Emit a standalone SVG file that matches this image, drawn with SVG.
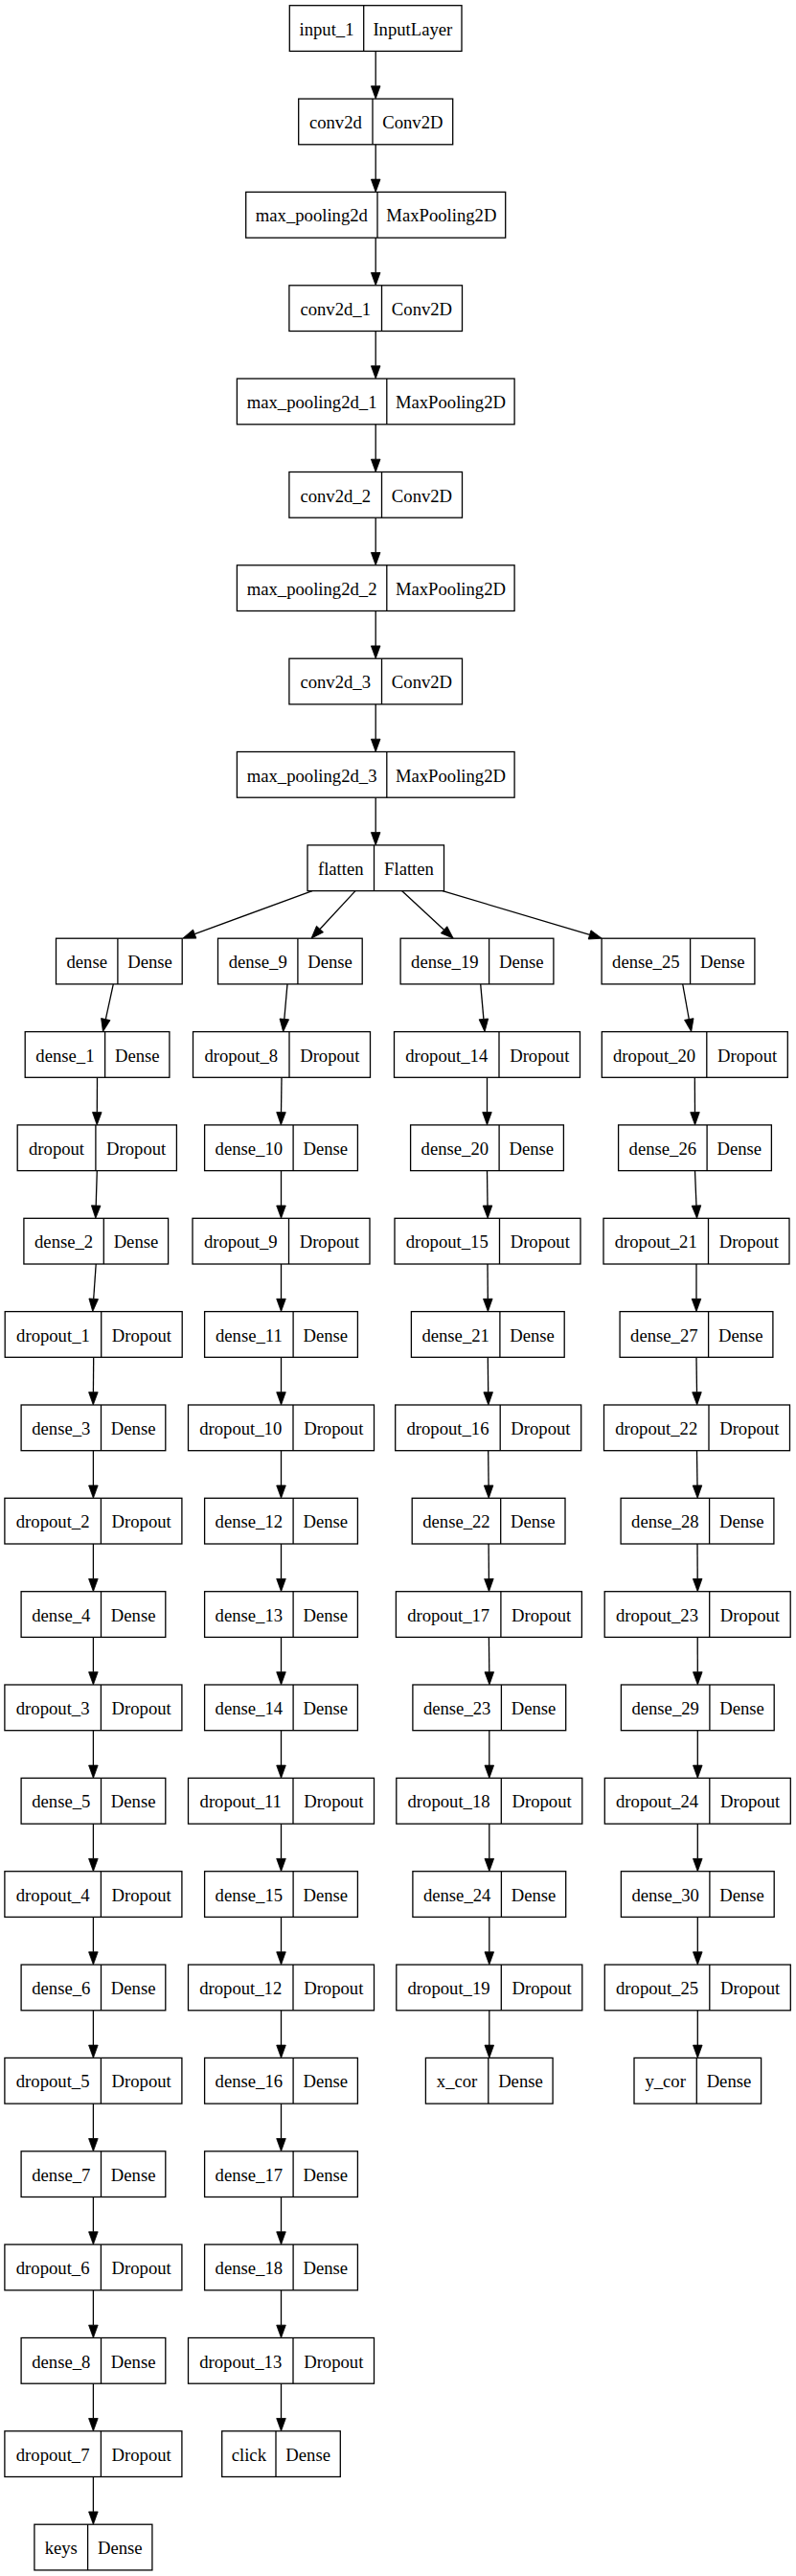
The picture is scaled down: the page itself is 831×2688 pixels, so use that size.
<svg xmlns="http://www.w3.org/2000/svg" width="831" height="2688" viewBox="0 0 831 2688">
<style>
.node rect{fill:#fff;stroke:#000;stroke-width:1.3}
.node line{stroke:#000;stroke-width:1.3}
.node text{font-family:"Liberation Serif","Times New Roman",serif;font-size:18.67px;text-anchor:middle;fill:#000}
#edges path{fill:none;stroke:#000;stroke-width:1.3;marker-end:url(#ah)}
</style>
<defs>
<marker id="ah" markerUnits="userSpaceOnUse" markerWidth="15" markerHeight="11" refX="0" refY="5" orient="auto" overflow="visible"><path d="M0,0.2 L13.3,5 L0,9.8z" fill="#000" stroke="#000" stroke-width="0.8"/></marker>
</defs>
<rect width="831" height="2688" fill="#fff"/>
<g id="edges">
<path d="M392.2,53.4V89.8"/>
<path d="M392.2,150.8V187.1"/>
<path d="M392.2,248.1V284.5"/>
<path d="M392.2,345.5V381.8"/>
<path d="M392.2,442.8V479.2"/>
<path d="M392.2,540.2V576.5"/>
<path d="M392.2,637.5V673.9"/>
<path d="M392.2,734.9V771.2"/>
<path d="M392.2,832.2V868.6"/>
<path d="M326,929.6L203.2,974.6"/>
<path d="M371,929.6L334,969.5"/>
<path d="M419.5,929.6L463.5,970.2"/>
<path d="M462,929.6L615.6,975.4"/>
<path d="M118.3,1026.9L110.3,1063.6"/>
<path d="M101.5,1124.3L101.3,1160.6"/>
<path d="M101.3,1221.6L100.2,1258"/>
<path d="M100.2,1319L97.7,1355.3"/>
<path d="M97.7,1416.3L97.4,1452.7"/>
<path d="M97.4,1513.7V1550"/>
<path d="M97.4,1611V1647.4"/>
<path d="M97.4,1708.4V1744.7"/>
<path d="M97.4,1805.7V1842.1"/>
<path d="M97.4,1903.1V1939.4"/>
<path d="M97.4,2000.4V2036.8"/>
<path d="M97.4,2097.8V2134.1"/>
<path d="M97.4,2195.1V2231.5"/>
<path d="M97.4,2292.5V2328.8"/>
<path d="M97.4,2389.8V2426.2"/>
<path d="M97.4,2487.2V2523.5"/>
<path d="M97.4,2584.5V2620.9"/>
<path d="M300,1026.9L296.8,1063.4"/>
<path d="M294,1124.3L293.5,1160.6"/>
<path d="M293.5,1221.6V1258"/>
<path d="M293.5,1319V1355.3"/>
<path d="M293.5,1416.3V1452.7"/>
<path d="M293.5,1513.7V1550"/>
<path d="M293.5,1611V1647.4"/>
<path d="M293.5,1708.4V1744.7"/>
<path d="M293.5,1805.7V1842.1"/>
<path d="M293.5,1903.1V1939.4"/>
<path d="M293.5,2000.4V2036.8"/>
<path d="M293.5,2097.8V2134.1"/>
<path d="M293.5,2195.1V2231.5"/>
<path d="M293.5,2292.5V2328.8"/>
<path d="M293.5,2389.8V2426.2"/>
<path d="M293.5,2487.2V2523.5"/>
<path d="M501.7,1026.9L504.9,1063.4"/>
<path d="M508.5,1124.3L508.5,1160.6"/>
<path d="M508.5,1221.6L509,1258"/>
<path d="M509,1319L509.3,1355.3"/>
<path d="M509.3,1416.3L509.7,1452.7"/>
<path d="M509.7,1513.7L510.1,1550"/>
<path d="M510.1,1611L510.4,1647.4"/>
<path d="M510.4,1708.4L510.8,1744.7"/>
<path d="M510.8,1805.7V1842.1"/>
<path d="M510.8,1903.1V1939.4"/>
<path d="M510.8,2000.4V2036.8"/>
<path d="M510.8,2097.8V2134.1"/>
<path d="M712.7,1026.9L719.3,1063.5"/>
<path d="M725.3,1124.3L725.5,1160.6"/>
<path d="M725.5,1221.6L727,1258"/>
<path d="M727,1319L727,1355.3"/>
<path d="M727,1416.3L727.5,1452.7"/>
<path d="M727.5,1513.7L728,1550"/>
<path d="M728,1611L728.2,1647.4"/>
<path d="M728.2,1708.4L728.3,1744.7"/>
<path d="M728.3,1805.7V1842.1"/>
<path d="M728.3,1903.1V1939.4"/>
<path d="M728.3,2000.4V2036.8"/>
<path d="M728.3,2097.8V2134.1"/>
</g>
<g id="input_1" class="node" transform="translate(302.3,5.7)"><rect width="179.7" height="47.7"/><line x1="77.4" x2="77.4" y2="47.7"/><text x="38.7" y="31">input_1</text><text x="128.55" y="31">InputLayer</text></g>
<g id="conv2d" class="node" transform="translate(311.7,103.1)"><rect width="161" height="47.7"/><line x1="77.3" x2="77.3" y2="47.7"/><text x="38.65" y="31">conv2d</text><text x="119.15" y="31">Conv2D</text></g>
<g id="max_pooling2d" class="node" transform="translate(256.7,200.4)"><rect width="271" height="47.7"/><line x1="137.3" x2="137.3" y2="47.7"/><text x="68.65" y="31">max_pooling2d</text><text x="204.15" y="31">MaxPooling2D</text></g>
<g id="conv2d_1" class="node" transform="translate(301.9,297.8)"><rect width="180.6" height="47.7"/><line x1="96.6" x2="96.6" y2="47.7"/><text x="48.3" y="31">conv2d_1</text><text x="138.6" y="31">Conv2D</text></g>
<g id="max_pooling2d_1" class="node" transform="translate(247.4,395.1)"><rect width="289.7" height="47.7"/><line x1="156.4" x2="156.4" y2="47.7"/><text x="78.2" y="31">max_pooling2d_1</text><text x="223.05" y="31">MaxPooling2D</text></g>
<g id="conv2d_2" class="node" transform="translate(301.9,492.5)"><rect width="180.6" height="47.7"/><line x1="96.6" x2="96.6" y2="47.7"/><text x="48.3" y="31">conv2d_2</text><text x="138.6" y="31">Conv2D</text></g>
<g id="max_pooling2d_2" class="node" transform="translate(247.4,589.8)"><rect width="289.7" height="47.7"/><line x1="156.4" x2="156.4" y2="47.7"/><text x="78.2" y="31">max_pooling2d_2</text><text x="223.05" y="31">MaxPooling2D</text></g>
<g id="conv2d_3" class="node" transform="translate(301.9,687.2)"><rect width="180.6" height="47.7"/><line x1="96.6" x2="96.6" y2="47.7"/><text x="48.3" y="31">conv2d_3</text><text x="138.6" y="31">Conv2D</text></g>
<g id="max_pooling2d_3" class="node" transform="translate(247.4,784.5)"><rect width="289.7" height="47.7"/><line x1="156.4" x2="156.4" y2="47.7"/><text x="78.2" y="31">max_pooling2d_3</text><text x="223.05" y="31">MaxPooling2D</text></g>
<g id="flatten" class="node" transform="translate(321,881.9)"><rect width="142.5" height="47.7"/><line x1="69.5" x2="69.5" y2="47.7"/><text x="34.75" y="31">flatten</text><text x="106" y="31">Flatten</text></g>

<g id="dense" class="node" transform="translate(58.5,979.2)"><rect width="131.7" height="47.7"/><line x1="64.4" x2="64.4" y2="47.7"/><text x="32.2" y="31">dense</text><text x="98.05" y="31">Dense</text></g>
<g id="dense_1" class="node" transform="translate(26.2,1076.6)"><rect width="150.7" height="47.7"/><line x1="83.4" x2="83.4" y2="47.7"/><text x="41.7" y="31">dense_1</text><text x="117.05" y="31">Dense</text></g>
<g id="dropout" class="node" transform="translate(18.2,1173.9)"><rect width="166.2" height="47.7"/><line x1="81.7" x2="81.7" y2="47.7"/><text x="40.85" y="31">dropout</text><text x="123.95" y="31">Dropout</text></g>
<g id="dense_2" class="node" transform="translate(24.9,1271.3)"><rect width="150.7" height="47.7"/><line x1="83.4" x2="83.4" y2="47.7"/><text x="41.7" y="31">dense_2</text><text x="117.05" y="31">Dense</text></g>
<g id="dropout_1" class="node" transform="translate(5.2,1368.6)"><rect width="185" height="47.7"/><line x1="100.5" x2="100.5" y2="47.7"/><text x="50.25" y="31">dropout_1</text><text x="142.75" y="31">Dropout</text></g>
<g id="dense_3" class="node" transform="translate(22.1,1466)"><rect width="150.7" height="47.7"/><line x1="83.4" x2="83.4" y2="47.7"/><text x="41.7" y="31">dense_3</text><text x="117.05" y="31">Dense</text></g>
<g id="dropout_2" class="node" transform="translate(4.9,1563.3)"><rect width="185" height="47.7"/><line x1="100.5" x2="100.5" y2="47.7"/><text x="50.25" y="31">dropout_2</text><text x="142.75" y="31">Dropout</text></g>
<g id="dense_4" class="node" transform="translate(22.1,1660.7)"><rect width="150.7" height="47.7"/><line x1="83.4" x2="83.4" y2="47.7"/><text x="41.7" y="31">dense_4</text><text x="117.05" y="31">Dense</text></g>
<g id="dropout_3" class="node" transform="translate(4.9,1758)"><rect width="185" height="47.7"/><line x1="100.5" x2="100.5" y2="47.7"/><text x="50.25" y="31">dropout_3</text><text x="142.75" y="31">Dropout</text></g>
<g id="dense_5" class="node" transform="translate(22.1,1855.4)"><rect width="150.7" height="47.7"/><line x1="83.4" x2="83.4" y2="47.7"/><text x="41.7" y="31">dense_5</text><text x="117.05" y="31">Dense</text></g>
<g id="dropout_4" class="node" transform="translate(4.9,1952.7)"><rect width="185" height="47.7"/><line x1="100.5" x2="100.5" y2="47.7"/><text x="50.25" y="31">dropout_4</text><text x="142.75" y="31">Dropout</text></g>
<g id="dense_6" class="node" transform="translate(22.1,2050.1)"><rect width="150.7" height="47.7"/><line x1="83.4" x2="83.4" y2="47.7"/><text x="41.7" y="31">dense_6</text><text x="117.05" y="31">Dense</text></g>
<g id="dropout_5" class="node" transform="translate(4.9,2147.4)"><rect width="185" height="47.7"/><line x1="100.5" x2="100.5" y2="47.7"/><text x="50.25" y="31">dropout_5</text><text x="142.75" y="31">Dropout</text></g>
<g id="dense_7" class="node" transform="translate(22.1,2244.8)"><rect width="150.7" height="47.7"/><line x1="83.4" x2="83.4" y2="47.7"/><text x="41.7" y="31">dense_7</text><text x="117.05" y="31">Dense</text></g>
<g id="dropout_6" class="node" transform="translate(4.9,2342.1)"><rect width="185" height="47.7"/><line x1="100.5" x2="100.5" y2="47.7"/><text x="50.25" y="31">dropout_6</text><text x="142.75" y="31">Dropout</text></g>
<g id="dense_8" class="node" transform="translate(22.1,2439.5)"><rect width="150.7" height="47.7"/><line x1="83.4" x2="83.4" y2="47.7"/><text x="41.7" y="31">dense_8</text><text x="117.05" y="31">Dense</text></g>
<g id="dropout_7" class="node" transform="translate(4.9,2536.8)"><rect width="185" height="47.7"/><line x1="100.5" x2="100.5" y2="47.7"/><text x="50.25" y="31">dropout_7</text><text x="142.75" y="31">Dropout</text></g>
<g id="keys" class="node" transform="translate(35.9,2634.2)"><rect width="123" height="47.7"/><line x1="55.7" x2="55.7" y2="47.7"/><text x="27.85" y="31">keys</text><text x="89.35" y="31">Dense</text></g>

<g id="dense_9" class="node" transform="translate(227.5,979.2)"><rect width="150.7" height="47.7"/><line x1="83.4" x2="83.4" y2="47.7"/><text x="41.7" y="31">dense_9</text><text x="117.05" y="31">Dense</text></g>
<g id="dropout_8" class="node" transform="translate(201.5,1076.6)"><rect width="185" height="47.7"/><line x1="100.5" x2="100.5" y2="47.7"/><text x="50.25" y="31">dropout_8</text><text x="142.75" y="31">Dropout</text></g>
<g id="dense_10" class="node" transform="translate(213.6,1173.9)"><rect width="159.8" height="47.7"/><line x1="92.5" x2="92.5" y2="47.7"/><text x="46.25" y="31">dense_10</text><text x="126.15" y="31">Dense</text></g>
<g id="dropout_9" class="node" transform="translate(201,1271.3)"><rect width="185" height="47.7"/><line x1="100.5" x2="100.5" y2="47.7"/><text x="50.25" y="31">dropout_9</text><text x="142.75" y="31">Dropout</text></g>
<g id="dense_11" class="node" transform="translate(213.6,1368.6)"><rect width="159.8" height="47.7"/><line x1="92.5" x2="92.5" y2="47.7"/><text x="46.25" y="31">dense_11</text><text x="126.15" y="31">Dense</text></g>
<g id="dropout_10" class="node" transform="translate(196.5,1466)"><rect width="194" height="47.7"/><line x1="109.5" x2="109.5" y2="47.7"/><text x="54.75" y="31">dropout_10</text><text x="151.75" y="31">Dropout</text></g>
<g id="dense_12" class="node" transform="translate(213.6,1563.3)"><rect width="159.8" height="47.7"/><line x1="92.5" x2="92.5" y2="47.7"/><text x="46.25" y="31">dense_12</text><text x="126.15" y="31">Dense</text></g>
<g id="dense_13" class="node" transform="translate(213.6,1660.7)"><rect width="159.8" height="47.7"/><line x1="92.5" x2="92.5" y2="47.7"/><text x="46.25" y="31">dense_13</text><text x="126.15" y="31">Dense</text></g>
<g id="dense_14" class="node" transform="translate(213.6,1758)"><rect width="159.8" height="47.7"/><line x1="92.5" x2="92.5" y2="47.7"/><text x="46.25" y="31">dense_14</text><text x="126.15" y="31">Dense</text></g>
<g id="dropout_11" class="node" transform="translate(196.5,1855.4)"><rect width="194" height="47.7"/><line x1="109.5" x2="109.5" y2="47.7"/><text x="54.75" y="31">dropout_11</text><text x="151.75" y="31">Dropout</text></g>
<g id="dense_15" class="node" transform="translate(213.6,1952.7)"><rect width="159.8" height="47.7"/><line x1="92.5" x2="92.5" y2="47.7"/><text x="46.25" y="31">dense_15</text><text x="126.15" y="31">Dense</text></g>
<g id="dropout_12" class="node" transform="translate(196.5,2050.1)"><rect width="194" height="47.7"/><line x1="109.5" x2="109.5" y2="47.7"/><text x="54.75" y="31">dropout_12</text><text x="151.75" y="31">Dropout</text></g>
<g id="dense_16" class="node" transform="translate(213.6,2147.4)"><rect width="159.8" height="47.7"/><line x1="92.5" x2="92.5" y2="47.7"/><text x="46.25" y="31">dense_16</text><text x="126.15" y="31">Dense</text></g>
<g id="dense_17" class="node" transform="translate(213.6,2244.8)"><rect width="159.8" height="47.7"/><line x1="92.5" x2="92.5" y2="47.7"/><text x="46.25" y="31">dense_17</text><text x="126.15" y="31">Dense</text></g>
<g id="dense_18" class="node" transform="translate(213.6,2342.1)"><rect width="159.8" height="47.7"/><line x1="92.5" x2="92.5" y2="47.7"/><text x="46.25" y="31">dense_18</text><text x="126.15" y="31">Dense</text></g>
<g id="dropout_13" class="node" transform="translate(196.5,2439.5)"><rect width="194" height="47.7"/><line x1="109.5" x2="109.5" y2="47.7"/><text x="54.75" y="31">dropout_13</text><text x="151.75" y="31">Dropout</text></g>
<g id="click" class="node" transform="translate(231.7,2536.8)"><rect width="123.6" height="47.7"/><line x1="56.3" x2="56.3" y2="47.7"/><text x="28.15" y="31">click</text><text x="89.95" y="31">Dense</text></g>

<g id="dense_19" class="node" transform="translate(418.1,979.2)"><rect width="159.8" height="47.7"/><line x1="92.5" x2="92.5" y2="47.7"/><text x="46.25" y="31">dense_19</text><text x="126.15" y="31">Dense</text></g>
<g id="dropout_14" class="node" transform="translate(411.5,1076.6)"><rect width="194" height="47.7"/><line x1="109.5" x2="109.5" y2="47.7"/><text x="54.75" y="31">dropout_14</text><text x="151.75" y="31">Dropout</text></g>
<g id="dense_20" class="node" transform="translate(428.6,1173.9)"><rect width="159.8" height="47.7"/><line x1="92.5" x2="92.5" y2="47.7"/><text x="46.25" y="31">dense_20</text><text x="126.15" y="31">Dense</text></g>
<g id="dropout_15" class="node" transform="translate(412,1271.3)"><rect width="194" height="47.7"/><line x1="109.5" x2="109.5" y2="47.7"/><text x="54.75" y="31">dropout_15</text><text x="151.75" y="31">Dropout</text></g>
<g id="dense_21" class="node" transform="translate(429.4,1368.6)"><rect width="159.8" height="47.7"/><line x1="92.5" x2="92.5" y2="47.7"/><text x="46.25" y="31">dense_21</text><text x="126.15" y="31">Dense</text></g>
<g id="dropout_16" class="node" transform="translate(412.7,1466)"><rect width="194" height="47.7"/><line x1="109.5" x2="109.5" y2="47.7"/><text x="54.75" y="31">dropout_16</text><text x="151.75" y="31">Dropout</text></g>
<g id="dense_22" class="node" transform="translate(430.2,1563.3)"><rect width="159.8" height="47.7"/><line x1="92.5" x2="92.5" y2="47.7"/><text x="46.25" y="31">dense_22</text><text x="126.15" y="31">Dense</text></g>
<g id="dropout_17" class="node" transform="translate(413.4,1660.7)"><rect width="194" height="47.7"/><line x1="109.5" x2="109.5" y2="47.7"/><text x="54.75" y="31">dropout_17</text><text x="151.75" y="31">Dropout</text></g>
<g id="dense_23" class="node" transform="translate(430.9,1758)"><rect width="159.8" height="47.7"/><line x1="92.5" x2="92.5" y2="47.7"/><text x="46.25" y="31">dense_23</text><text x="126.15" y="31">Dense</text></g>
<g id="dropout_18" class="node" transform="translate(413.8,1855.4)"><rect width="194" height="47.7"/><line x1="109.5" x2="109.5" y2="47.7"/><text x="54.75" y="31">dropout_18</text><text x="151.75" y="31">Dropout</text></g>
<g id="dense_24" class="node" transform="translate(430.9,1952.7)"><rect width="159.8" height="47.7"/><line x1="92.5" x2="92.5" y2="47.7"/><text x="46.25" y="31">dense_24</text><text x="126.15" y="31">Dense</text></g>
<g id="dropout_19" class="node" transform="translate(413.8,2050.1)"><rect width="194" height="47.7"/><line x1="109.5" x2="109.5" y2="47.7"/><text x="54.75" y="31">dropout_19</text><text x="151.75" y="31">Dropout</text></g>
<g id="x_cor" class="node" transform="translate(444.4,2147.4)"><rect width="132.7" height="47.7"/><line x1="65.4" x2="65.4" y2="47.7"/><text x="32.7" y="31">x_cor</text><text x="99.05" y="31">Dense</text></g>

<g id="dense_25" class="node" transform="translate(628.1,979.2)"><rect width="159.8" height="47.7"/><line x1="92.5" x2="92.5" y2="47.7"/><text x="46.25" y="31">dense_25</text><text x="126.15" y="31">Dense</text></g>
<g id="dropout_20" class="node" transform="translate(628.3,1076.6)"><rect width="194" height="47.7"/><line x1="109.5" x2="109.5" y2="47.7"/><text x="54.75" y="31">dropout_20</text><text x="151.75" y="31">Dropout</text></g>
<g id="dense_26" class="node" transform="translate(645.6,1173.9)"><rect width="159.8" height="47.7"/><line x1="92.5" x2="92.5" y2="47.7"/><text x="46.25" y="31">dense_26</text><text x="126.15" y="31">Dense</text></g>
<g id="dropout_21" class="node" transform="translate(630,1271.3)"><rect width="194" height="47.7"/><line x1="109.5" x2="109.5" y2="47.7"/><text x="54.75" y="31">dropout_21</text><text x="151.75" y="31">Dropout</text></g>
<g id="dense_27" class="node" transform="translate(647.1,1368.6)"><rect width="159.8" height="47.7"/><line x1="92.5" x2="92.5" y2="47.7"/><text x="46.25" y="31">dense_27</text><text x="126.15" y="31">Dense</text></g>
<g id="dropout_22" class="node" transform="translate(630.5,1466)"><rect width="194" height="47.7"/><line x1="109.5" x2="109.5" y2="47.7"/><text x="54.75" y="31">dropout_22</text><text x="151.75" y="31">Dropout</text></g>
<g id="dense_28" class="node" transform="translate(648.1,1563.3)"><rect width="159.8" height="47.7"/><line x1="92.5" x2="92.5" y2="47.7"/><text x="46.25" y="31">dense_28</text><text x="126.15" y="31">Dense</text></g>
<g id="dropout_23" class="node" transform="translate(631.2,1660.7)"><rect width="194" height="47.7"/><line x1="109.5" x2="109.5" y2="47.7"/><text x="54.75" y="31">dropout_23</text><text x="151.75" y="31">Dropout</text></g>
<g id="dense_29" class="node" transform="translate(648.4,1758)"><rect width="159.8" height="47.7"/><line x1="92.5" x2="92.5" y2="47.7"/><text x="46.25" y="31">dense_29</text><text x="126.15" y="31">Dense</text></g>
<g id="dropout_24" class="node" transform="translate(631.3,1855.4)"><rect width="194" height="47.7"/><line x1="109.5" x2="109.5" y2="47.7"/><text x="54.75" y="31">dropout_24</text><text x="151.75" y="31">Dropout</text></g>
<g id="dense_30" class="node" transform="translate(648.4,1952.7)"><rect width="159.8" height="47.7"/><line x1="92.5" x2="92.5" y2="47.7"/><text x="46.25" y="31">dense_30</text><text x="126.15" y="31">Dense</text></g>
<g id="dropout_25" class="node" transform="translate(631.3,2050.1)"><rect width="194" height="47.7"/><line x1="109.5" x2="109.5" y2="47.7"/><text x="54.75" y="31">dropout_25</text><text x="151.75" y="31">Dropout</text></g>
<g id="y_cor" class="node" transform="translate(662,2147.4)"><rect width="132.6" height="47.7"/><line x1="65.3" x2="65.3" y2="47.7"/><text x="32.65" y="31">y_cor</text><text x="98.95" y="31">Dense</text></g>
</svg>
